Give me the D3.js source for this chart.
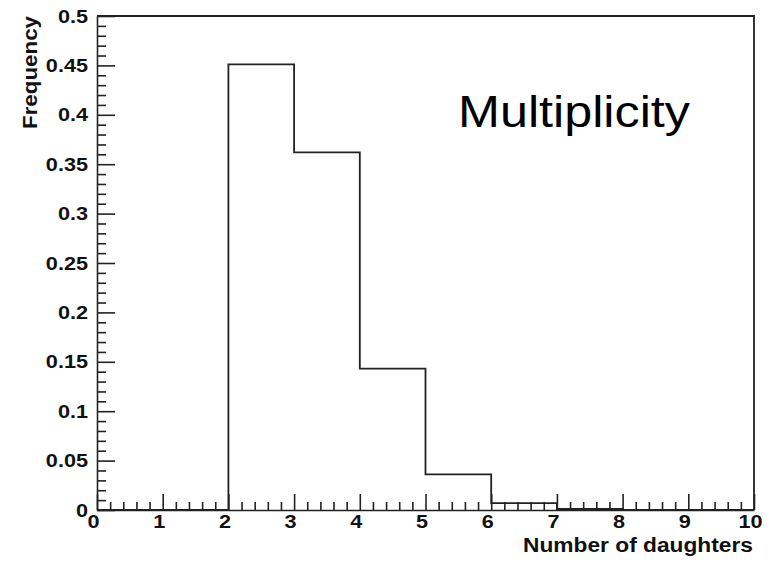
<!DOCTYPE html>
<html>
<head>
<meta charset="utf-8">
<script src="https://cdn.jsdelivr.net/npm/d3@7"></script>
<style>
  body { margin: 0; background: #fff; }
  svg { display: block; }
  .axis path, .axis line { stroke: #222; stroke-width: 1.6; }
  .axis text { font-family: "Liberation Sans", Arial, sans-serif; font-weight: bold; font-size: 19px; fill: #111; }
  .title { font-family: "Liberation Sans", Arial, sans-serif; font-weight: bold; fill: #111; }
</style>
</head>
<body>
<script>
// histogram bins (lower edge) and frequency per bin
var binLow = [0, 1, 2, 3, 4, 5, 6, 7, 8, 9];
var freq = [0, 0, 0.451, 0.362, 0.143, 0.036, 0.007, 0.001, 0, 0];

var xMajor = [0, 1, 2, 3, 4, 5, 6, 7, 8, 9, 10];
var yMajor = [0, 0.05, 0.1, 0.15, 0.2, 0.25, 0.3, 0.35, 0.4, 0.45, 0.5];
var yLabels = ["0", "0.05", "0.1", "0.15", "0.2", "0.25", "0.3", "0.35", "0.4", "0.45", "0.5"];

var width = 777, height = 562;
var margin = {left: 97, right: 23, top: 16, bottom: 52};
var sx = 1.14; // the picture's glyphs are a bit wider than tall

var svg = d3.select("body").append("svg")
    .attr("width", width)
    .attr("height", height);

var x = d3.scaleLinear().domain([0, 10]).range([margin.left, width - margin.right]);
var y = d3.scaleLinear().domain([0, 0.5]).range([height - margin.bottom, margin.top]);

// minor ticks: 5 subdivisions on both axes
var xMinor = d3.range(0, 50).map(function(i) { return i / 5; }).filter(function(v) { return v % 1 !== 0; });
var yMinor = d3.range(0, 50).map(function(i) { return i / 100; }).filter(function(v, i) { return i % 5 !== 0; });

// x axis
svg.append("g")
    .attr("class", "axis")
    .attr("transform", "translate(0," + y(0) + ")")
    .call(d3.axisBottom(x).tickValues(xMinor).tickSize(-8).tickFormat(""))
    .call(function(g) { g.select(".domain").remove(); });

var gx = svg.append("g")
    .attr("class", "axis")
    .attr("transform", "translate(0," + y(0) + ")")
    .call(d3.axisBottom(x).tickValues(xMajor).tickSize(-16).tickSizeOuter(0).tickPadding(5).tickFormat(d3.format("d")));
gx.selectAll("text").attr("transform", "scale(" + sx + ",1)").attr("x", function(d) { return -4 / sx; });

// y axis
svg.append("g")
    .attr("class", "axis")
    .attr("transform", "translate(" + x(0) + ",0)")
    .call(d3.axisLeft(y).tickValues(yMinor).tickSize(-9).tickFormat(""))
    .call(function(g) { g.select(".domain").remove(); });

var gy = svg.append("g")
    .attr("class", "axis")
    .attr("transform", "translate(" + x(0) + ",0)")
    .call(d3.axisLeft(y).tickValues(yMajor).tickSize(-18).tickSizeOuter(0).tickPadding(9)
      .tickFormat(function(d, i) { return yLabels[i]; }));
gy.selectAll("text").attr("transform", "scale(" + sx + ",1)").attr("x", -9 / sx);

// frame (top and right)
svg.append("path")
    .attr("d", "M" + x(0) + "," + y(0.5) + "H" + x(10) + "V" + y(0))
    .attr("fill", "none")
    .attr("stroke", "#222")
    .attr("stroke-width", 1.8);

// histogram outline
var pts = binLow.map(function(b, i) { return [b, freq[i]]; });
pts.push([10, 0]);

var step = d3.line()
    .curve(d3.curveStepAfter)
    .x(function(d) { return x(d[0]); })
    .y(function(d) { return y(d[1]); });

svg.append("path")
    .datum(pts)
    .attr("d", step)
    .attr("fill", "none")
    .attr("stroke", "#222")
    .attr("stroke-width", 1.8);

// titles
svg.append("text")
    .attr("class", "title")
    .attr("x", x(10) - 1)
    .attr("y", 552)
    .attr("text-anchor", "end")
    .attr("font-size", 19.5)
    .attr("textLength", 230)
    .attr("lengthAdjust", "spacingAndGlyphs")
    .text("Number of daughters");

svg.append("text")
    .attr("class", "title")
    .attr("transform", "translate(37," + y(0.5) + ") rotate(-90)")
    .attr("text-anchor", "end")
    .attr("font-size", 19.5)
    .attr("textLength", 113)
    .attr("lengthAdjust", "spacingAndGlyphs")
    .text("Frequency");

svg.append("text")
    .attr("x", 458)
    .attr("y", 127)
    .attr("font-family", "\"Liberation Sans\", Arial, sans-serif")
    .attr("font-size", 44)
    .attr("textLength", 232)
    .attr("lengthAdjust", "spacingAndGlyphs")
    .attr("fill", "#000")
    .text("Multiplicity");
</script>
</body>
</html>
